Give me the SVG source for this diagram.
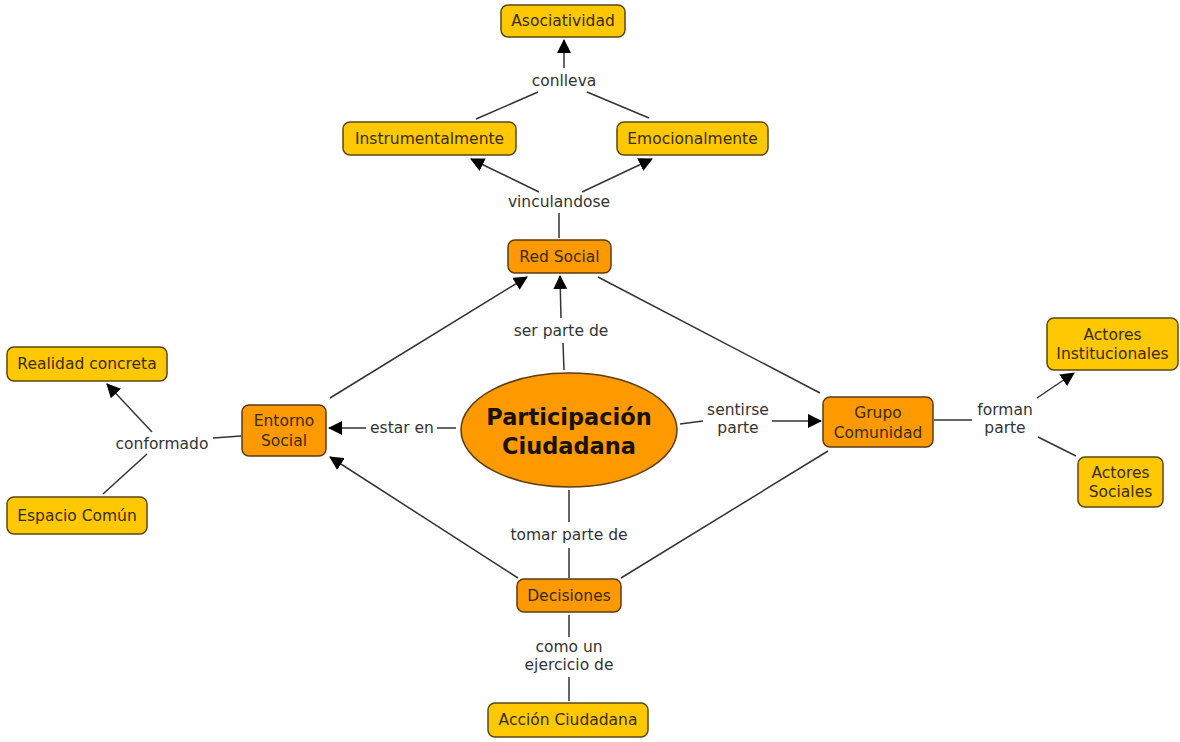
<svg xmlns="http://www.w3.org/2000/svg" width="1180" height="742" viewBox="0 0 1180 742">
<style>
.y{fill:#ffc800;stroke:#5a4712;stroke-width:1.5}
.o{fill:#ff9900;stroke:#5a3d12;stroke-width:1.5}
.t{font-family:"DejaVu Sans",Verdana,sans-serif;font-size:15.5px;fill:#3a2c05;text-anchor:middle}
.l{font-family:"DejaVu Sans",Verdana,sans-serif;font-size:15.5px;fill:#333;text-anchor:middle}
.b{font-family:"DejaVu Sans",Verdana,sans-serif;font-size:22.5px;font-weight:bold;fill:#1a1200;text-anchor:middle}
.c{stroke:#333;stroke-width:1.5;fill:none}
.a{marker-end:url(#ah)}
</style>
<defs>
<marker id="ah" markerUnits="userSpaceOnUse" markerWidth="14" markerHeight="14" refX="13" refY="7" orient="auto">
<path d="M0,0 L14,7 L0,14 z" fill="#000"/>
</marker>
</defs>
<rect width="1180" height="742" fill="#fff"/>
<g id="connectors">
<path class="c a" d="M564,68 L564,40"/>
<path class="c" d="M476,119 L538,92"/>
<path class="c" d="M649,118 L587,92"/>
<path class="c" d="M559,238 L559,213"/>
<path class="c a" d="M539,192 L471,159"/>
<path class="c a" d="M582,192 L652,159"/>
<path class="c" d="M564,370 L563,343"/>
<path class="c a" d="M561,318 L560,276"/>
<path class="c a" d="M330,398 L527,277"/>
<path class="c" d="M820,393 L598,277"/>
<path class="c" d="M456,428 L437,428"/>
<path class="c a" d="M366,428 L329,428"/>
<path class="c" d="M680,424 L703,421"/>
<path class="c a" d="M772,421 L821,421"/>
<path class="c" d="M934,420 L972,420"/>
<path class="c a" d="M1037,398 L1074,373"/>
<path class="c" d="M1038,437 L1076,456"/>
<path class="c" d="M241,436 L213,438"/>
<path class="c a" d="M152,432 L107,384"/>
<path class="c" d="M147,454 L103,494"/>
<path class="c" d="M569,490 L569,522"/>
<path class="c" d="M569,548 L569,578"/>
<path class="c a" d="M518,578 L330,457"/>
<path class="c" d="M621,578 L828,451"/>
<path class="c" d="M569,615 L569,637"/>
<path class="c" d="M569,677 L569,701"/>
</g>
<g id="labels">
<text class="l" x="564" y="86">conlleva</text>
<text class="l" x="559" y="207">vinculandose</text>
<text class="l" x="561" y="336">ser parte de</text>
<text class="l" x="162" y="449">conformado</text>
<text class="l" x="402" y="433">estar en</text>
<text class="l" x="738" y="415">sentirse</text>
<text class="l" x="738" y="433">parte</text>
<text class="l" x="1005" y="415">forman</text>
<text class="l" x="1005" y="433">parte</text>
<text class="l" x="569" y="540">tomar parte de</text>
<text class="l" x="569" y="652">como un</text>
<text class="l" x="569" y="670">ejercicio de</text>
</g>
<g id="n-asociatividad"><rect class="y" x="501" y="5" width="124" height="32" rx="7"/><text class="t" x="563" y="26">Asociatividad</text></g>
<g id="n-instrumentalmente"><rect class="y" x="343" y="122" width="173" height="33" rx="7"/><text class="t" x="429.5" y="144">Instrumentalmente</text></g>
<g id="n-emocionalmente"><rect class="y" x="617" y="122" width="151" height="33" rx="7"/><text class="t" x="692.5" y="144">Emocionalmente</text></g>
<g id="n-redsocial"><rect class="o" x="508" y="240" width="103" height="33" rx="7"/><text class="t" x="559.5" y="262">Red Social</text></g>
<g id="n-realidad"><rect class="y" x="7" y="347" width="160" height="34" rx="7"/><text class="t" x="87" y="369">Realidad concreta</text></g>
<g id="n-espacio"><rect class="y" x="7" y="497" width="140" height="37" rx="7"/><text class="t" x="77" y="521">Espacio Común</text></g>
<g id="n-entorno"><rect class="o" x="242" y="405" width="84" height="51" rx="7"/><text class="t" x="284" y="426">Entorno</text><text class="t" x="284" y="446">Social</text></g>
<g id="n-participacion"><ellipse class="o" cx="569" cy="430" rx="108" ry="57"/><text class="b" x="569" y="425">Participación</text><text class="b" x="569" y="454">Ciudadana</text></g>
<g id="n-grupo"><rect class="o" x="823" y="397" width="110" height="50" rx="7"/><text class="t" x="878" y="418">Grupo</text><text class="t" x="878" y="438">Comunidad</text></g>
<g id="n-institucionales"><rect class="y" x="1047" y="318" width="131" height="52" rx="7"/><text class="t" x="1112.5" y="340">Actores</text><text class="t" x="1112.5" y="359">Institucionales</text></g>
<g id="n-sociales"><rect class="y" x="1078" y="457" width="85" height="50" rx="7"/><text class="t" x="1120.5" y="478">Actores</text><text class="t" x="1120.5" y="497">Sociales</text></g>
<g id="n-decisiones"><rect class="o" x="517" y="579" width="104" height="33" rx="7"/><text class="t" x="569" y="601">Decisiones</text></g>
<g id="n-accion"><rect class="y" x="488" y="703" width="160" height="34" rx="7"/><text class="t" x="568" y="725">Acción Ciudadana</text></g>
</svg>
